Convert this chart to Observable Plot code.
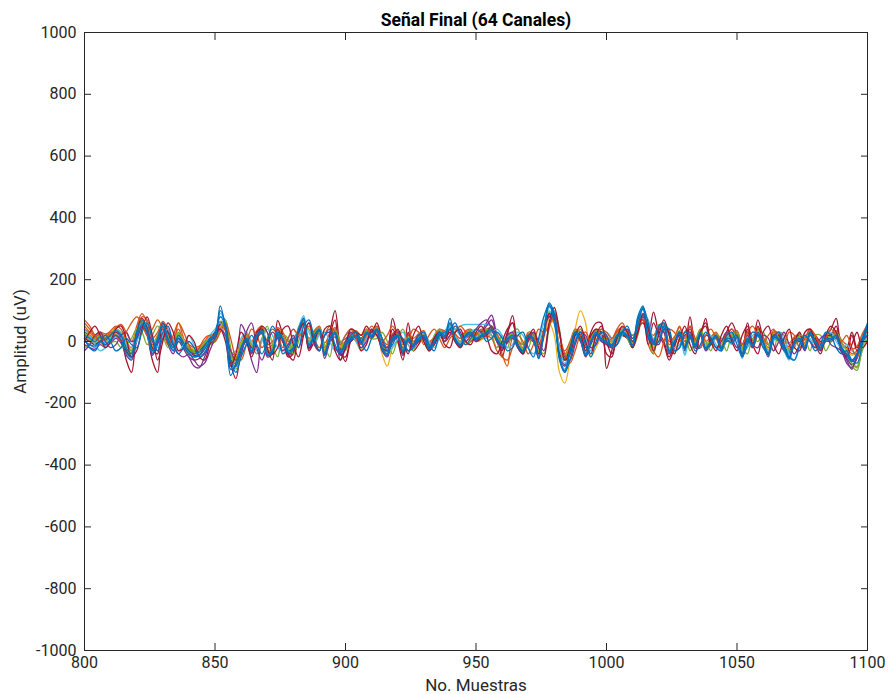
<!DOCTYPE html>
<html>
<head>
<meta charset="utf-8">
<script src="https://cdn.jsdelivr.net/npm/d3@7"></script>
<script src="https://cdn.jsdelivr.net/npm/@observablehq/plot@0.6"></script>
<style>
  html, body { margin: 0; padding: 0; background: #fff; }
  #chart svg { display: block; }
</style>
</head>
<body>
<div id="chart"></div>
<script>
// Sample index: 800..1100, every 2nd sample
const sampleStart = 800;
const sampleStep = 2;

const titleText = "Señal Final (64 Canales)";
const xLabel = "No. Muestras";
const yLabel = "Amplitud (uV)";
const xTicks = [800, 850, 900, 950, 1000, 1050, 1100];
const yTicks = [-1000, -800, -600, -400, -200, 0, 200, 400, 600, 800, 1000];

const ch01 = [50,30,15,25,20,35,50,40,0,-20, 50,90,60,-10,20,50,20,0,60,10, -20,-30,-25,-5,15,30,55,45,-40,-60,
  -10,20,-10,30,45,-20,-10,40,20,-10, 0,30,55,0,30,45,-20,20,40,-10, 0,20,30,10,35,30,45,0,-20,20,
  30,-10,20,0,20,30,-5,10,35,30, 45,20,0,30,35,20,30,35,40,20, -40,-80,10,0,-20,25,20,-20,35,80,
  70,-20,-40,-10,35,20,-20,10,35,20, 10,0,30,40,30,0,60,80,-10,-40, 40,50,-10,10,50,0,30,0,35,-10,
  10,25,-10,20,20,30,-20,25,0,40, 10,-20,30,20,-10,-15,10,20,-5,35, 10,-10,20,20,30,-5,-20,-40,-30,20, 50];
const ch02 = [10,0,-10,5,0,10,25,10,-25,-40, 20,55,30,-30,0,45,0,-25,10,-10, -35,-45,-40,-20,0,10,45,40,-50,-60,
  -25,0,-30,10,25,-40,-35,20,0,-35, -25,30,55,-15,10,30,-35,0,20,-30, -20,0,10,-10,15,10,20,-40,-80,-20,
  0,-40,0,-20,0,10,-25,-10,15,10, 30,0,-20,0,10,0,5,15,20,0, -20,0,10,-20,-40,0,0,-50,10,60,
  20,-100,-135,-60,40,100,60,-50,-20,10, -10,-20,10,20,10,-20,40,60,10,-20, 40,30,-30,-10,20,-25,10,-20,20,-25,
  -10,10,-25,0,0,10,-40,0,-20,20, -10,-40,10,0,-25,-35,-10,0,-25,20, -10,-25,0,0,10,-25,-45,-60,-45,0, 30];
const ch03 = [30,20,10,20,10,25,40,25,-10,-30, 30,60,35,-40,0,50,0,-30,10,-20, -50,-80,-85,-50,-10,10,60,50,-70,-80,
  55,20,-60,-100,10,-30,-40,20,0,-40, -30,30,60,-20,10,35,-45,0,25,-60, -20,0,15,-5,25,15,35,-25,-45,5,
  15,-35,5,-15,5,15,-25,-5,25,15, 45,5,-15,15,25,5,30,60,85,20, -20,0,15,-15,-35,15,5,-45,25,90,
  80,-45,-75,-25,25,5,-45,-5,25,5, -5,-15,15,25,15,-15,60,90,15,-5, 45,35,-35,-5,25,-25,15,-15,25,-25,
  -5,15,-25,5,5,15,-45,5,-15,25, -5,-45,15,5,-25,-35,-5,5,-25,25, -5,-25,5,5,15,-30,-60,-90,-50,5, 30];
const ch04 = [15,5,-5,10,0,15,30,15,-25,-35, 25,60,35,-25,5,50,5,-20,15,-10, -25,-35,-30,-10,5,15,60,50,-50,-60,
  -15,5,-25,15,30,-35,-25,25,5,-25, -15,35,65,-5,15,35,-35,5,25,-25, -5,5,15,-5,25,15,35,-15,-35,5,
  15,-25,5,-5,5,15,-15,5,25,15, 45,15,-5,15,25,5,15,25,35,5, -15,5,15,-5,-25,15,5,-35,25,90,
  80,-35,-60,-15,25,5,-35,5,25,5, -5,-5,15,25,15,-5,60,85,15,-40, 30,30,-40,-5,25,-30,15,-15,25,-25,
  -5,15,-25,5,5,15,-45,5,-15,25, -5,-45,15,5,-25,-35,-5,5,-25,25, -5,-25,5,5,15,-30,-50,-80,-93,-20, 20];
const ch05 = [0,-10,-20,-5,-15,0,15,0,-40,-55, 10,50,25,-40,0,45,0,-30,5,-15, -40,-50,-45,-25,0,10,80,70,-55,-65,
  -25,5,-35,15,30,-45,-35,25,5,-35, -25,45,84,-5,15,35,-45,5,25,-35, -15,5,15,-5,25,15,35,-25,-45,5,
  15,-35,5,-15,5,15,-25,-5,25,15, 45,40,50,55,55,55,55,55,50,20, -10,5,15,-15,-35,15,5,-45,25,110,
  95,-45,-80,-25,25,5,-45,-5,25,5, -5,-15,15,25,15,-15,70,105,15,-5, 45,35,-35,-5,25,-45,15,-15,25,-25,
  -5,15,-25,5,-10,10,-50,5,-15,25, -5,-45,15,5,-30,-60,-10,5,-25,25, -5,-25,5,5,15,-25,-45,-65,-45,5, 35];
const ch06 = [40,25,10,20,10,20,30,10,-60,-100, 20,60,20,-60,-100,50,20,-10,20,0, -20,-30,-30,-10,10,20,50,40,-60,-70,
  -20,0,-20,25,30,-30,-40,68,20,-40, -60,20,50,-20,10,40,-30,30,100,-20, -65,0,20,10,30,20,40,0,-30,75,
  10,-40,60,-20,0,10,-20,0,20,10, 30,10,-10,10,20,0,10,20,30,10, -50,20,84,0,-20,10,0,-30,20,80,
  70,-30,-50,-10,30,20,-20,30,60,60, -87,-30,20,30,20,0,40,60,20,95, 30,0,-50,-10,20,-10,80,0,20,75,
  0,20,-10,30,60,20,-30,60,0,70, 10,-30,20,30,-10,-20,10,20,-10,30, 20,0,20,40,75,-10,-20,30,-20,20, 30];
const ch07 = [60,40,20,30,25,30,45,55,30,0, 40,80,70,10,30,65,40,10,40,0, -10,-20,-15,0,20,25,50,35,-30,-45,
  0,25,0,35,50,-10,0,45,30,0, 10,35,50,10,35,50,-5,25,45,0, 10,25,35,20,40,35,50,10,-10,25,
  35,0,25,10,25,35,0,15,40,35, 50,25,10,35,40,25,35,40,45,25, 0,20,25,5,-10,30,25,-10,40,70,
  60,-10,-30,0,40,30,-10,15,40,25, 15,5,35,45,35,10,55,70,40,20, 50,55,0,15,45,10,40,5,40,0,
  15,30,0,25,25,35,-10,30,5,45, 15,-10,35,25,0,-5,15,25,5,40, 15,-5,25,25,35,5,-10,-25,-15,25, 55];
const ch08 = [35,25,10,20,15,30,40,30,-5,-25, 40,65,45,-15,15,50,20,-5,25,5, -15,-25,-20,-5,15,25,50,45,-40,-50,
  -5,15,-15,25,35,-25,-15,30,15,-15, -5,30,50,5,20,35,-25,15,30,-15, 0,15,20,5,25,20,35,-10,-30,10,
  20,-20,10,-5,10,20,-10,5,25,20, 40,15,0,20,25,10,20,25,35,10, -5,10,20,-5,-20,20,10,-30,25,70,
  60,-30,-50,-10,30,40,10,-20,10,15, 5,-5,20,25,20,0,50,70,20,5, 45,40,-20,5,30,-10,25,0,30,-10,
  5,20,-10,15,15,25,-25,15,0,30, 5,-25,20,15,-10,-20,5,15,-10,30, 5,-10,15,15,20,-10,-25,-45,-35,15, 45];
const ch09 = [-10,-20,-25,-10,-20,-5,10,-5,-45,-60, 0,45,20,-45,-10,40,-10,-40,0,-25, -50,-60,-55,-35,-10,0,55,45,-65,-80,
  -30,0,-40,10,25,-50,-40,15,0,-45, -35,25,55,-25,5,25,-55,-5,15,-45, -25,0,10,-10,20,10,30,-30,-50,0,
  10,-45,0,-20,0,10,-30,-10,20,10, 40,0,-20,10,20,0,25,50,70,10, -25,-5,10,-20,-40,10,0,-50,20,85,
  75,-50,-80,-30,20,0,-50,-10,20,0, -10,-20,10,20,10,-20,55,85,10,-10, 40,30,-40,-10,20,-30,10,-20,20,-30,
  -10,10,-30,0,0,10,-50,0,-20,20, -10,-50,10,0,-30,-40,-10,0,-30,20, -10,-30,0,0,10,-35,-55,-75,-55,0, 25];
const ch10 = [25,15,5,20,10,25,40,25,-10,-30, 35,65,45,-20,15,55,15,-15,25,0, -20,-30,-25,-5,15,25,65,55,-45,-55,
  -10,15,-20,25,40,-30,-20,35,15,-20, -10,45,70,0,25,45,-30,15,35,-20, 0,15,25,5,35,25,45,-10,-30,15,
  25,-20,15,0,15,25,-10,5,35,25, 55,15,0,25,35,15,25,35,45,15, -5,15,25,0,-20,25,15,-30,35,95,
  85,-30,-55,-10,35,15,-30,10,35,15, 5,0,25,35,25,0,65,90,25,5, 55,45,-25,5,35,-15,25,-5,35,-15,
  5,25,-15,15,15,25,-35,15,-5,35, 5,-35,25,15,-15,-25,5,15,-15,35, 5,-15,15,15,25,-15,-40,-70,-85,-10, 30];
const ch11 = [10,0,-10,5,-5,10,25,10,-30,-50, 20,60,30,-35,5,55,5,-25,15,-10, -35,-45,-40,-20,5,15,90,60,-80,-75,
  -20,5,-30,15,30,-40,-30,30,10,-30, -20,40,80,-10,20,40,-40,10,30,-30, -10,10,20,0,30,20,40,-20,-40,10,
  20,-30,10,-10,10,20,-20,0,30,20, 50,15,-5,20,30,15,20,30,40,10, -10,10,20,-10,-30,20,10,-50,30,115,
  95,-50,-90,-25,30,10,-40,0,30,10, 0,-10,20,30,20,-10,75,110,20,0, 50,45,-35,0,30,-40,20,-10,30,-20,
  0,20,-20,10,0,15,-55,10,-10,30, 0,-45,20,10,-25,-55,-5,10,-20,30, 0,-20,10,10,20,-20,-40,-60,-40,10, 45];
const ch12 = [10,0,-10,0,-10,5,20,0,-30,-50, 30,75,45,-20,-40,60,30,-10,10,-10, -30,-45,-45,-20,5,15,60,50,-70,-120,
  -30,10,-20,30,40,-20,-60,40,0,-50, -40,30,60,-30,0,35,-40,20,70,-40, -50,10,30,20,50,30,60,10,-20,40,
  0,-60,30,-30,-10,15,-30,-10,20,0, 40,0,-20,20,30,10,20,30,50,0, -30,30,60,-10,-30,20,10,-40,30,90,
  80,-40,-60,-20,30,20,-30,20,40,30, -40,-50,10,20,10,-20,50,70,-10,60, 20,-10,-60,-20,30,-20,50,-10,30,50,
  -10,20,-20,20,40,10,-40,40,-10,50, 0,-40,20,20,-20,-30,0,30,-20,30, 10,-20,20,20,50,-20,-40,20,-30,10, 20];
const ch13 = [20,10,0,15,5,20,35,20,-20,-40, 30,70,40,-30,10,60,10,-20,20,-5, -30,-40,-35,-15,10,20,115,40,-110,-70,
  -20,10,-30,20,35,-40,-30,30,10,-30, -20,40,75,-10,20,40,-40,10,30,-30, -10,10,20,0,30,20,40,-20,-40,10,
  20,-30,10,-10,10,20,-20,0,30,20, 75,10,-10,20,30,10,20,30,40,10, -10,10,20,-10,-30,20,10,-55,30,125,
  90,-60,-100,-30,30,10,-40,0,30,10, 0,-10,20,30,20,-10,80,115,20,0, 50,60,-30,0,30,-20,20,-10,30,-20,
  0,20,-20,10,10,20,-40,10,-10,30, 0,-40,20,10,-20,-50,0,10,-20,30, 0,-20,10,10,20,-20,-40,-60,-40,10, 60];
const ch14 = [0,-10,-15,0,-10,5,20,5,-35,-50, 15,55,30,-40,0,50,0,-30,10,-15, -40,-50,-45,-25,0,15,100,55,-90,-80,
  -25,5,-35,15,30,-45,-35,25,5,-35, -25,35,70,-15,15,35,-45,5,25,-35, -15,5,15,-5,25,15,35,-25,-45,5,
  15,-35,5,-15,5,15,-25,-5,25,15, 60,5,-15,15,25,5,15,25,35,5, -15,5,15,-15,-35,15,5,-55,25,115,
  85,-55,-95,-35,25,5,-45,-5,25,5, -5,-15,15,25,15,-15,70,105,15,-5, 45,45,-35,-5,25,-25,15,-15,25,-25,
  -5,15,-25,5,-5,15,-50,5,-15,25, -5,-45,15,5,-25,-55,-5,5,-25,25, -5,-25,5,5,15,-25,-45,-65,-45,5, 50];
const ch15 = [-20,-10,10,0,-15,-5,0,-20,-10,10, 40,30,-10,20,50,20,-20,0,30,-10, -45,-30,-20,0,-10,0,40,70,-20,-90,
  -40,20,-10,-40,10,50,-10,-50,20,10, -40,0,50,40,-10,30,-10,-50,40,0, -30,20,0,-30,40,10,10,30,0,-40,
  10,40,-10,-30,20,0,-30,20,40,0, 20,40,20,-10,0,30,10,40,20,-20, 20,-20,30,40,-10,-20,30,-20,-40,40,
  100,40,-60,-40,0,40,0,-30,20,40, 20,-20,0,40,10,-20,20,80,60,-20, 0,60,20,-40,10,20,-30,0,40,0,
  -30,20,10,-30,20,30,-20,-40,10,0, 30,-10,-30,30,20,-30,-20,20,10,-30, 20,20,-30,0,30,0,-30,-70,-80,-30, 10];
const ch16 = [40,20,-10,-30,-20,10,40,30,-10,-20, 0,40,60,20,-20,20,40,0,-30,-10, 20,-10,-30,-20,20,40,60,10,-40,-30,
  10,30,0,-30,0,40,20,-20,-30,10, 40,20,50,30,-10,20,30,0,-30,-10, 20,30,0,-20,10,40,30,10,-30,-20,
  10,30,-10,-20,20,30,0,-20,10,30, 60,40,20,10,30,40,20,10,30,40, 20,-20,-10,30,20,-20,-40,0,60,100,
  60,-20,-70,-40,10,30,10,-30,-10,20, 30,10,-10,20,40,20,40,90,70,10, 20,50,20,-20,-10,30,20,-20,-10,20,
  20,-10,-30,10,30,10,-30,-20,20,30, -10,-30,0,30,10,-40,-60,-20,20,10, -20,-10,20,30,0,-20,-10,-30,-40,-10, 30];
const ch17 = [-30,-10,20,30,0,-20,-10,20,30,0, 10,50,30,0,-30,10,30,-10,-40,-50, -40,-60,-80,-70,-30,10,40,20,-30,-60,
  -40,30,60,-20,-60,-10,30,10,-30,-10, 20,-20,30,60,-10,-30,20,30,-20,-40, 0,30,10,-20,0,30,20,-10,-20,20,
  30,0,-30,-10,20,10,-20,10,30,0, 20,50,30,0,20,40,60,70,40,0, -20,20,30,-20,-40,0,30,0,-30,50,
  90,30,-50,-60,-10,30,20,-20,-10,30, 20,-20,-10,30,40,0,30,80,50,0, -10,40,30,-30,-20,20,30,-20,-20,20,
  10,-20,0,30,10,-20,-10,20,-10,-20, 20,10,-30,0,30,-10,-40,-10,20,0, -20,10,20,-10,-20,-30,-70,-85,-40,0, 20];
const ch18 = [70,50,20,0,10,30,20,0,30,60, 80,60,20,40,70,40,-10,20,60,30, -10,-40,-20,10,20,0,30,60,10,-50,
  -60,-10,40,20,-20,10,40,20,-20,10, 40,20,30,50,10,-20,20,50,30,-10, 20,40,10,-10,20,50,30,0,20,50,
  20,-20,0,40,30,-10,20,40,10,-20, 10,30,50,30,0,20,40,20,10,-30, -50,-60,-20,20,0,-40,-10,40,30,50,
  80,20,-40,-70,-30,20,30,0,20,40, 30,10,40,60,30,20,40,70,40,-30, -50,0,40,30,0,30,50,10,-20,20,
  40,10,-20,20,40,20,-10,30,50,20, 0,20,40,0,-10,30,20,-20,10,40, 20,-10,10,40,20,0,20,-20,-50,0, 40];
const ch19 = [0,30,50,20,-20,0,40,50,10,-50, -30,40,80,20,-60,0,60,30,-30,-20, 20,0,-50,-60,-10,30,40,0,-80,-40,
  30,0,-50,0,50,30,-40,-20,40,50, -10,-50,20,60,0,-30,40,50,-30,-60, -20,40,30,-30,-10,40,20,-20,-30,10,
  40,0,-40,20,50,0,-30,10,30,-10, -20,30,40,0,-10,30,50,20,-30,-40, 0,40,60,-10,-40,10,40,-20,-50,60,
  110,30,-60,-40,20,50,0,-40,20,50, 0,-40,10,50,30,-20,30,90,40,-30, 20,70,20,-40,10,50,-10,-40,30,60,
  0,-30,20,50,0,-30,20,50,-10,-40, 30,50,-10,-40,10,40,-20,-30,30,40, -10,-40,20,50,30,-20,-50,-10,30,-20, 0];
const ch20 = [10,-20,-30,0,20,0,-30,-20,10,-10, -20,30,60,10,-30,30,50,-10,-40,-20, 0,-20,-50,-40,0,30,80,50,-60,-100,
  -50,-10,20,-10,-40,0,50,20,-40,-20, 10,-20,50,70,10,-30,20,40,-10,-40, -10,20,30,0,-30,10,40,10,-30,-10,
  20,10,-30,-20,20,30,-10,-30,20,30, 40,60,20,-10,10,40,30,0,10,30, 10,-30,-20,20,30,-20,-50,10,80,120,
  60,-50,-100,-60,0,30,-10,-50,0,30, 20,-20,-10,30,50,10,50,110,60,-10, 0,50,40,-30,-20,30,20,-30,-10,30,
  10,-20,-30,20,30,-10,-50,-10,30,20, -20,-40,10,30,-10,-50,-60,-10,20,0, -30,-10,30,20,-20,-40,-30,-60,-70,-10, 50];

// drawing order and colours (MATLAB default colour order; blue drawn last)
const channels = [ch01, ch02, ch03, ch04, ch05, ch06, ch07, ch08, ch09, ch10, ch11, ch12,
  ch15, ch16, ch17, ch18, ch19, ch13, ch14, ch20];
const channelColors = ["#D95319", "#EDB120", "#7E2F8E", "#77AC30", "#4DBEEE", "#A2142F",
  "#D95319", "#EDB120", "#7E2F8E", "#77AC30", "#4DBEEE", "#A2142F",
  "#77AC30", "#4DBEEE", "#7E2F8E", "#D95319", "#A2142F", "#0072BD", "#0072BD", "#0072BD"];

const ink = "#262626";
const font = "Roboto, 'Liberation Sans', sans-serif";
const fmt = d => String(d);

const lineMarks = channels.map((vals, c) =>
  Plot.line(vals.map((v, i) => ({x: sampleStart + i * sampleStep, y: v})), {
    x: "x", y: "y", stroke: channelColors[c], strokeWidth: 1.3, curve: "catmull-rom"
  })
);

const chart = Plot.plot({
  width: 889,
  height: 694,
  marginLeft: 84,
  marginRight: 22,
  marginTop: 32,
  marginBottom: 44,
  style: {fontFamily: font, fontSize: "16px", color: ink, background: "#fff"},
  x: {domain: [800, 1100]},
  y: {domain: [-1000, 1000]},
  marks: [
    ...lineMarks,
    Plot.axisX(xTicks, {anchor: "bottom", tickSize: -7, tickPadding: 13, tickFormat: fmt, label: null, stroke: ink, fill: ink, fontSize: 16}),
    Plot.axisX(xTicks, {anchor: "top", tickSize: -7, tickFormat: () => "", label: null, stroke: ink}),
    Plot.axisY(yTicks, {anchor: "left", tickSize: -7, tickPadding: 15, tickFormat: fmt, label: null, stroke: ink, fill: ink, fontSize: 16}),
    Plot.axisY(yTicks, {anchor: "right", tickSize: -7, tickFormat: () => "", label: null, stroke: ink}),
    Plot.frame({stroke: ink, strokeWidth: 1}),
    Plot.text([titleText], {text: d => d, frameAnchor: "top", lineAnchor: "middle", dy: -12, fontWeight: "bold", fontSize: 17.5, fill: "#000"}),
    Plot.text([xLabel], {text: d => d, frameAnchor: "bottom", lineAnchor: "middle", dy: 35, fontSize: 17, fill: ink}),
    Plot.text([yLabel], {text: d => d, frameAnchor: "left", textAnchor: "middle", lineAnchor: "middle", dx: -64, rotate: -90, fontSize: 17, fill: ink})
  ]
});

document.getElementById("chart").appendChild(chart);
</script>
</body>
</html>
